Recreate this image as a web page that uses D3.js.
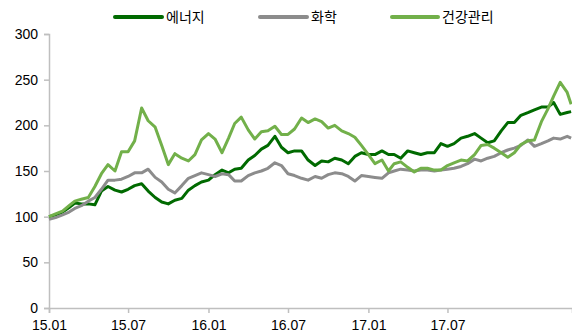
<!DOCTYPE html>
<html>
<head>
<meta charset="utf-8">
<script src="https://cdn.jsdelivr.net/npm/d3@7"></script>
<style>
  html, body { margin: 0; padding: 0; background: #fff; }
  svg { display: block; }
  text { font-family: "Liberation Sans", Arial, "Noto Sans CJK KR", sans-serif; }
  .legend text { font-family: "Noto Sans CJK KR", "Liberation Sans", sans-serif; }
</style>
</head>
<body>
<svg id="chart" width="572" height="333"></svg>
<script>
// Semi-monthly observation dates
const dates = [
  "2015-01-01","2015-01-16","2015-02-01","2015-02-16","2015-03-01","2015-03-16",
  "2015-04-01","2015-04-16","2015-05-01","2015-05-16","2015-06-01","2015-06-16",
  "2015-07-01","2015-07-16","2015-08-01","2015-08-16","2015-09-01","2015-09-16",
  "2015-10-01","2015-10-16","2015-11-01","2015-11-16","2015-12-01","2015-12-16",
  "2016-01-01","2016-01-16","2016-02-01","2016-02-16","2016-03-01","2016-03-16",
  "2016-04-01","2016-04-16","2016-05-01","2016-05-16","2016-06-01","2016-06-16",
  "2016-07-01","2016-07-16","2016-08-01","2016-08-16","2016-09-01","2016-09-16",
  "2016-10-01","2016-10-16","2016-11-01","2016-11-16","2016-12-01","2016-12-16",
  "2017-01-01","2017-01-16","2017-02-01","2017-02-16","2017-03-01","2017-03-16",
  "2017-04-01","2017-04-16","2017-05-01","2017-05-16","2017-06-01","2017-06-16",
  "2017-07-01","2017-07-16","2017-08-01","2017-08-16","2017-09-01","2017-09-16",
  "2017-10-01","2017-10-16","2017-11-01","2017-11-16","2017-12-01","2017-12-16",
  "2018-01-01","2018-01-16","2018-02-01","2018-02-16","2018-03-01","2018-03-16",
  "2018-04-01","2018-04-10"
];

// Index values (2015-01 = 100)
const energy = [
  100,102,105,110,115,114,114,113,128,133,129,127,
  130,134,136,128,121,116,114,118,120,129,134,138,
  140,146,151,148,152,153,162,167,174,178,188,176,
  170,172,172,162,156,161,160,164,162,158,166,170,
  168,168,172,168,168,164,172,170,168,170,170,180,
  177,180,186,188,191,186,181,183,194,203,203,211,
  214,217,220,220,225,212,214,215
];
const chemical = [
   97, 99,102,105,109,112,117,121,130,140,140,141,
  144,148,148,152,143,138,130,126,134,142,145,148,
  146,144,147,146,139,139,145,148,150,153,159,156,
  147,145,142,140,144,142,146,148,147,144,139,145,
  144,143,142,148,150,152,151,150,151,151,150,151,
  152,153,155,158,163,161,164,166,170,173,175,178,
  184,177,180,183,186,185,188,186
];
const healthcare = [
  100,103,106,112,117,119,121,133,147,157,150,171,
  171,183,219,205,198,178,157,169,164,161,168,184,
  191,185,170,186,202,209,195,185,193,194,199,190,
  190,196,208,203,207,204,197,200,194,191,187,178,
  168,158,162,150,158,160,154,149,153,153,151,151,
  156,159,162,161,168,178,179,175,170,165,170,179,
  183,184,204,218,232,247,236,223
];

const seriesNames = ["에너지", "화학", "건강관리"];
const seriesColors = ["#006a00", "#8c8c8c", "#72b04a"];
const yTicks = [0, 50, 100, 150, 200, 250, 300];
const xTickDates = ["2015-01-01","2015-07-01","2016-01-01","2016-07-01","2017-01-01","2017-07-01"];
const xTickLabels = ["15.01","15.07","16.01","16.07","17.01","17.07"];

const parse = d3.timeParse("%Y-%m-%d");
const t = dates.map(parse);
const series = [energy, chemical, healthcare].map((vals, i) => ({
  name: seriesNames[i],
  color: seriesColors[i],
  points: vals.map((v, j) => ({ date: t[j], value: v }))
}));

const svg = d3.select("#chart");
const margin = { left: 49, right: 0, top: 34, bottom: 25 };
const W = 572, H = 333;

const x = d3.scaleTime()
  .domain([parse("2015-01-01"), parse("2018-04-12")])
  .range([margin.left, W - margin.right]);
const y = d3.scaleLinear()
  .domain([0, 300])
  .range([H - margin.bottom, margin.top]);

const axisColor = "#bfbfbf";

// Y axis
const yAxis = svg.append("g")
  .attr("transform", `translate(${margin.left},0)`)
  .call(d3.axisLeft(y).tickValues(yTicks).tickSize(5).tickPadding(6).tickFormat(d3.format("d")));
yAxis.select(".domain").attr("stroke", axisColor).attr("stroke-width", 1.5);
yAxis.selectAll(".tick line").attr("stroke", axisColor).attr("stroke-width", 1.5);
yAxis.selectAll(".tick text").attr("fill", "#000").style("font-size", "14px");

// X axis
const xAxis = svg.append("g")
  .attr("transform", `translate(0,${y(0)})`)
  .call(d3.axisBottom(x).tickValues(xTickDates.map(parse)).tickSize(5).tickPadding(7)
    .tickFormat((d, i) => xTickLabels[i]));
xAxis.select(".domain").attr("stroke", axisColor).attr("stroke-width", 1.5);
xAxis.selectAll(".tick line").attr("stroke", axisColor).attr("stroke-width", 1.5);
xAxis.selectAll(".tick text").attr("fill", "#000").style("font-size", "14px");

// Lines
const line = d3.line()
  .x(d => x(d.date))
  .y(d => y(d.value));

svg.append("g").selectAll("path")
  .data(series)
  .join("path")
  .attr("d", d => line(d.points))
  .attr("fill", "none")
  .attr("stroke", d => d.color)
  .attr("stroke-width", 3)
  .attr("stroke-linejoin", "round");

// Legend
const legendItems = [
  { x1: 115, x2: 162, tx: 166 },
  { x1: 260, x2: 307, tx: 311 },
  { x1: 392, x2: 438, tx: 442 }
];
const legend = svg.append("g").attr("class", "legend");
series.forEach((s, i) => {
  const it = legendItems[i];
  legend.append("line")
    .attr("x1", it.x1).attr("x2", it.x2)
    .attr("y1", 17).attr("y2", 17)
    .attr("stroke", s.color).attr("stroke-width", 4)
    .attr("stroke-linecap", "round");
  legend.append("text")
    .attr("x", it.tx).attr("y", 17)
    .attr("dy", "0.35em")
    .style("font-size", "14px")
    .attr("fill", "#000")
    .text(s.name);
});
</script>
</body>
</html>
